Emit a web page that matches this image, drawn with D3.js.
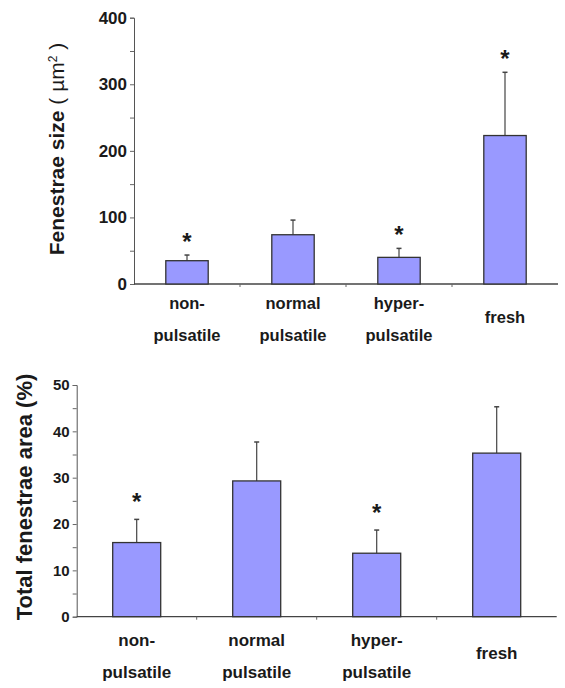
<!DOCTYPE html>
<html>
<head>
    <title>fenestrae</title>
    <style>
        body { margin: 0; background: #fff; }
        text { font-family: Arial, "Liberation Sans", sans-serif; fill: #1a1a1a; }
    </style>
</head>
<body>
<script src="https://d3js.org/d3.v7.min.js"></script>
<script>

    // categories (two-line labels)
    var categories = ['non-pulsatile', 'normal pulsatile', 'hyper-pulsatile', 'fresh'];
    var labelLines = [['non-', 'pulsatile'], ['normal', 'pulsatile'], ['hyper-', 'pulsatile'], ['fresh']];

    // top panel: fenestrae size (um^2)
    var sizeMean = [35, 74, 40, 223];
    var sizeErr = [8.5, 22, 13.5, 95];
    var sizeStar = [true, false, true, true];
    var sizeTicks = [0, 100, 200, 300, 400];

    // bottom panel: total fenestrae area (%)
    var areaMean = [16, 29.3, 13.7, 35.3];
    var areaErr = [5, 8.4, 5, 10];
    var areaStar = [true, false, true, false];
    var areaTicks = [0, 10, 20, 30, 40, 50];

    var width = 565, height = 688;

    var svg = d3.select('body').append('svg')
        .attr('width', width)
        .attr('height', height);

    function panel(opt) {
        var x = d3.scaleBand().domain(categories).range(opt.xr).paddingInner(0).paddingOuter(0);
        var y = d3.scaleLinear().domain([0, opt.max]).range(opt.yr);
        var g = svg.append('g');
        var bw = x.bandwidth() * 0.4;

        var rows = categories.map(function (c, i) {
            return { cat: c, mean: opt.mean[i], err: opt.err[i], star: opt.star[i], lines: labelLines[i] };
        });

        // y axis with minor ticks every half step
        var yAxis = d3.axisLeft(y)
            .tickValues(d3.range(0, opt.max + 0.001, opt.minor))
            .tickSize(4)
            .tickFormat(function (d) { return opt.ticks.indexOf(d) >= 0 ? d : ''; });
        var ya = g.append('g')
            .attr('transform', 'translate(' + opt.xr[0] + ',0)')
            .call(yAxis);
        ya.select('.domain').attr('stroke', '#555');
        ya.selectAll('.tick line').attr('stroke', '#666');
        ya.selectAll('.tick text')
            .attr('x', -7)
            .style('font-size', opt.tickFont + 'px')
            .style('font-weight', 'bold')
            .attr('fill', '#1a1a1a');

        // x axis line + separator ticks
        g.append('line')
            .attr('x1', opt.xr[0]).attr('x2', opt.xr[1])
            .attr('y1', y(0)).attr('y2', y(0))
            .attr('stroke', '#444').attr('stroke-width', 1.3);
        g.selectAll('.sep')
            .data(categories.slice(1))
            .enter().append('line')
            .attr('x1', function (d) { return x(d); })
            .attr('x2', function (d) { return x(d); })
            .attr('y1', y(0)).attr('y2', y(0) + 3)
            .attr('stroke', '#666');

        // error bars (upper only)
        var cx = function (d) { return x(d.cat) + x.bandwidth() / 2; };
        g.selectAll('.err')
            .data(rows)
            .enter().append('line')
            .attr('x1', cx).attr('x2', cx)
            .attr('y1', function (d) { return y(d.mean); })
            .attr('y2', function (d) { return y(d.mean + d.err); })
            .attr('stroke', '#444').attr('stroke-width', 1.2);
        g.selectAll('.cap')
            .data(rows)
            .enter().append('line')
            .attr('x1', function (d) { return cx(d) - 2.5; })
            .attr('x2', function (d) { return cx(d) + 2.5; })
            .attr('y1', function (d) { return y(d.mean + d.err); })
            .attr('y2', function (d) { return y(d.mean + d.err); })
            .attr('stroke', '#444').attr('stroke-width', 1.5);

        // bars
        g.selectAll('rect')
            .data(rows)
            .enter().append('rect')
            .attr('x', function (d) { return cx(d) - bw / 2; })
            .attr('width', bw)
            .attr('y', function (d) { return y(d.mean); })
            .attr('height', function (d) { return y(0) - y(d.mean); })
            .attr('fill', '#9999ff')
            .attr('stroke', '#333')
            .attr('stroke-width', 1.3);

        // significance stars
        g.selectAll('.star')
            .data(rows.filter(function (d) { return d.star; }))
            .enter().append('text')
            .attr('x', cx)
            .attr('y', function (d) { return y(d.mean + d.err) - opt.starGap + 14; })
            .attr('text-anchor', 'middle')
            .style('font-size', '24px')
            .style('font-weight', 'bold')
            .text('*');

        // category labels
        var lab = g.selectAll('.lab')
            .data(rows)
            .enter().append('text')
            .attr('text-anchor', 'middle')
            .style('font-size', opt.labFont + 'px')
            .style('font-weight', 'bold');
        lab.each(function (d) {
            var t = d3.select(this);
            if (d.lines.length === 1) {
                t.append('tspan').attr('x', cx(d)).attr('y', opt.labY[2]).text(d.lines[0]);
            } else {
                t.append('tspan').attr('x', cx(d)).attr('y', opt.labY[0]).text(d.lines[0]);
                t.append('tspan').attr('x', cx(d)).attr('y', opt.labY[1]).text(d.lines[1]);
            }
        });

        return y;
    }

    panel({
        xr: [134, 558], yr: [284, 17.7], max: 400, minor: 50,
        mean: sizeMean, err: sizeErr, star: sizeStar, ticks: sizeTicks,
        tickFont: 17, labFont: 16.5, labY: [309, 341, 323], starGap: 19
    });

    panel({
        xr: [76.7, 556.7], yr: [616.7, 385], max: 50, minor: 5,
        mean: areaMean, err: areaErr, star: areaStar, ticks: areaTicks,
        tickFont: 15, labFont: 17, labY: [646, 678, 659], starGap: 23
    });

    // y axis titles
    var t1 = svg.append('text')
        .attr('transform', 'translate(64,149) rotate(-90)')
        .attr('text-anchor', 'middle')
        .style('font-size', '21px')
        .style('white-space', 'pre');
    t1.append('tspan').style('font-weight', 'bold').text('Fenestrae size ');
    t1.append('tspan').text('( \u00b5m');
    t1.append('tspan').attr('dy', -7).style('font-size', '12px').text('2');
    t1.append('tspan').attr('dy', 7).text(' )');

    svg.append('text')
        .attr('transform', 'translate(32,497) rotate(-90)')
        .attr('text-anchor', 'middle')
        .style('font-size', '22px')
        .style('font-weight', 'bold')
        .text('Total fenestrae area (%)');

</script>
</body>
</html>
